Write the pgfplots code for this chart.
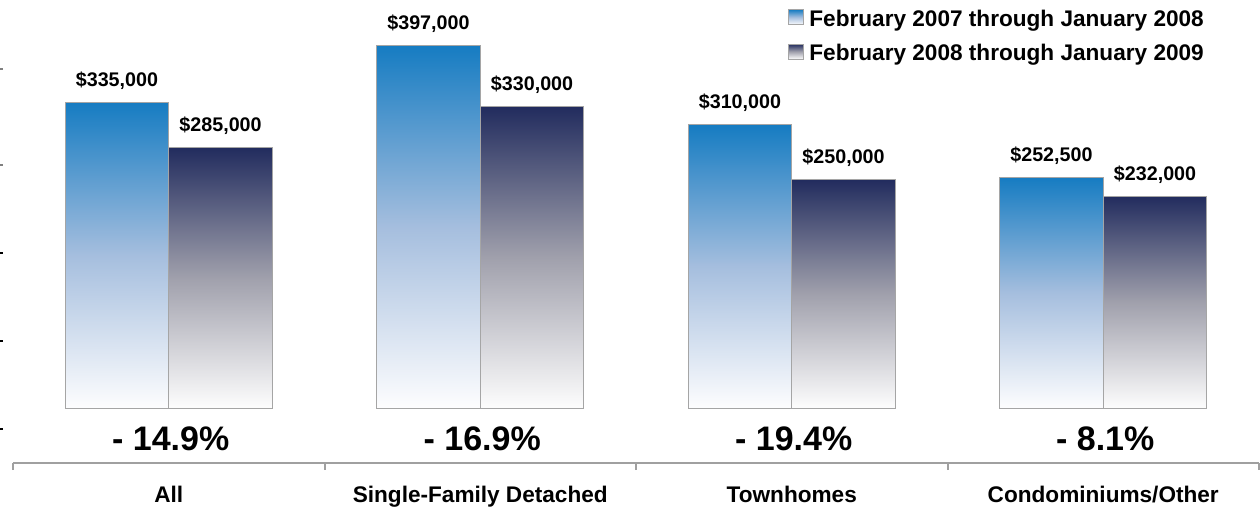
\documentclass[border=0pt]{standalone}
\usepackage{fontspec}
\setmainfont{Liberation Sans}
\usepackage{pgfplots}
\pgfplotsset{compat=1.18}
\definecolor{bluetop}{RGB}{22,124,194}
\definecolor{bluemid}{RGB}{165,190,222}
\definecolor{bluebot}{RGB}{253,253,254}
\definecolor{darktop}{RGB}{34,44,94}
\definecolor{darkmid}{RGB}{160,160,172}
\definecolor{darkbot}{RGB}{253,253,253}
\definecolor{edgegray}{RGB}{165,165,165}
\definecolor{axisgray}{RGB}{160,160,160}
\pgfplotsset{
  sqlegend/.style={legend image code/.code={\draw[##1] (0pt,-2.25pt) rectangle (7.5pt,5.25pt);}},
  vallabel/.style={nodes near coords={\bfseries\$\pgfmathprintnumber[fixed,precision=0,1000 sep={,}]{\pgfplotspointmeta}},
    nodes near coords style={anchor=base, yshift=8pt, inner sep=0pt, font=\fontsize{9.85}{12}\selectfont\bfseries, black}},
  bluebar/.style={ybar, bar width=0.333, bar shift=-0.1665, draw=edgegray, line width=0.5pt,
    top color=bluetop, bottom color=bluebot, middle color=bluemid, vallabel,
    nodes near coords style={xshift=-25.9pt}, sqlegend},
  darkbar/.style={ybar, bar width=0.333, bar shift=0.1665, draw=edgegray, line width=0.5pt,
    top color=darktop, bottom color=darkbot, middle color=darkmid, vallabel,
    nodes near coords style={xshift=25.9pt}, sqlegend},
}
\begin{document}
\begin{tikzpicture}
\begin{axis}[name=ax, scale only axis, width=623pt, height=231.5pt,
  xmin=-0.5, xmax=3.5, ymin=-60230, ymax=446800,
  axis x line*=bottom, axis y line=none,
  axis line style={axisgray, line width=1pt},
  xtick={0,1,2,3},
  xticklabels={All, Single-Family Detached, Townhomes, Condominiums/Other},
  major tick length=0pt,
  minor xtick={-0.5,0.5,1.5,2.5,3.5}, minor tick length=3.5pt, tick align=outside,
  every minor tick/.append style={axisgray, line width=1pt},
  xticklabel style={anchor=base, yshift=-19.5pt, font=\fontsize{11.3}{13}\selectfont\bfseries},
  ytick=\empty,
  clip=false,
  legend style={at={(0.622,0.981)}, anchor=north west, draw=none, fill=none, inner sep=0pt,
    font=\fontsize{11.3}{13}\selectfont\bfseries, row sep=6.4pt,
    nodes={inner sep=0pt, text height=8.2pt, text depth=2.4pt},
    /tikz/every odd column/.append style={column sep=2.5pt}},
  legend cell align=left,
  /pgf/number format/assume math mode=true,
]
% February 2007 - January 2008 (blue) and February 2008 - January 2009 (dark), one bar per plot
\addplot[bluebar] coordinates {(0,335000)};
\addlegendentry{February 2007 through January 2008}
\addplot[darkbar] coordinates {(0,285000)};
\addlegendentry{February 2008 through January 2009}
\addplot[bluebar, forget plot] coordinates {(1,397000)};
\addplot[darkbar, forget plot] coordinates {(1,330000)};
\addplot[bluebar, forget plot] coordinates {(2,310000)};
\addplot[darkbar, forget plot] coordinates {(2,250000)};
\addplot[bluebar, forget plot] coordinates {(3,252500)};
\addplot[darkbar, forget plot] coordinates {(3,232000)};
\addplot[draw=none, mark=none, forget plot, nodes near coords, point meta=explicit symbolic,
  nodes near coords style={anchor=base, inner sep=0pt, xshift=1pt, font=\fontsize{17}{20}\selectfont\bfseries, black}]
  coordinates {(0,-46540) [- 14.9\%] (1,-46540) [- 16.9\%] (2,-46540) [- 19.4\%] (3,-46540) [- 8.1\%]};
\end{axis}
\pgfresetboundingbox
\path[use as bounding box] ([shift={(-6.5pt,-23pt)}]ax.south west) rectangle ([shift={(623.5pt,231.5pt)}]ax.south west);
\draw[gray, line width=0.8pt] ([shift={(-6.5pt,197pt)}]ax.south west) -- ++(1.5pt,0);
\draw[gray, line width=0.8pt] ([shift={(-6.5pt,149pt)}]ax.south west) -- ++(1.5pt,0);
\draw[black, line width=0.6pt] ([shift={(-6.5pt,105pt)}]ax.south west) -- ++(1.5pt,0);
\draw[black, line width=0.6pt] ([shift={(-6.5pt,61pt)}]ax.south west) -- ++(1.5pt,0);
\draw[black, line width=0.6pt] ([shift={(-6.5pt,17pt)}]ax.south west) -- ++(1.5pt,0);
\end{tikzpicture}
\end{document}
